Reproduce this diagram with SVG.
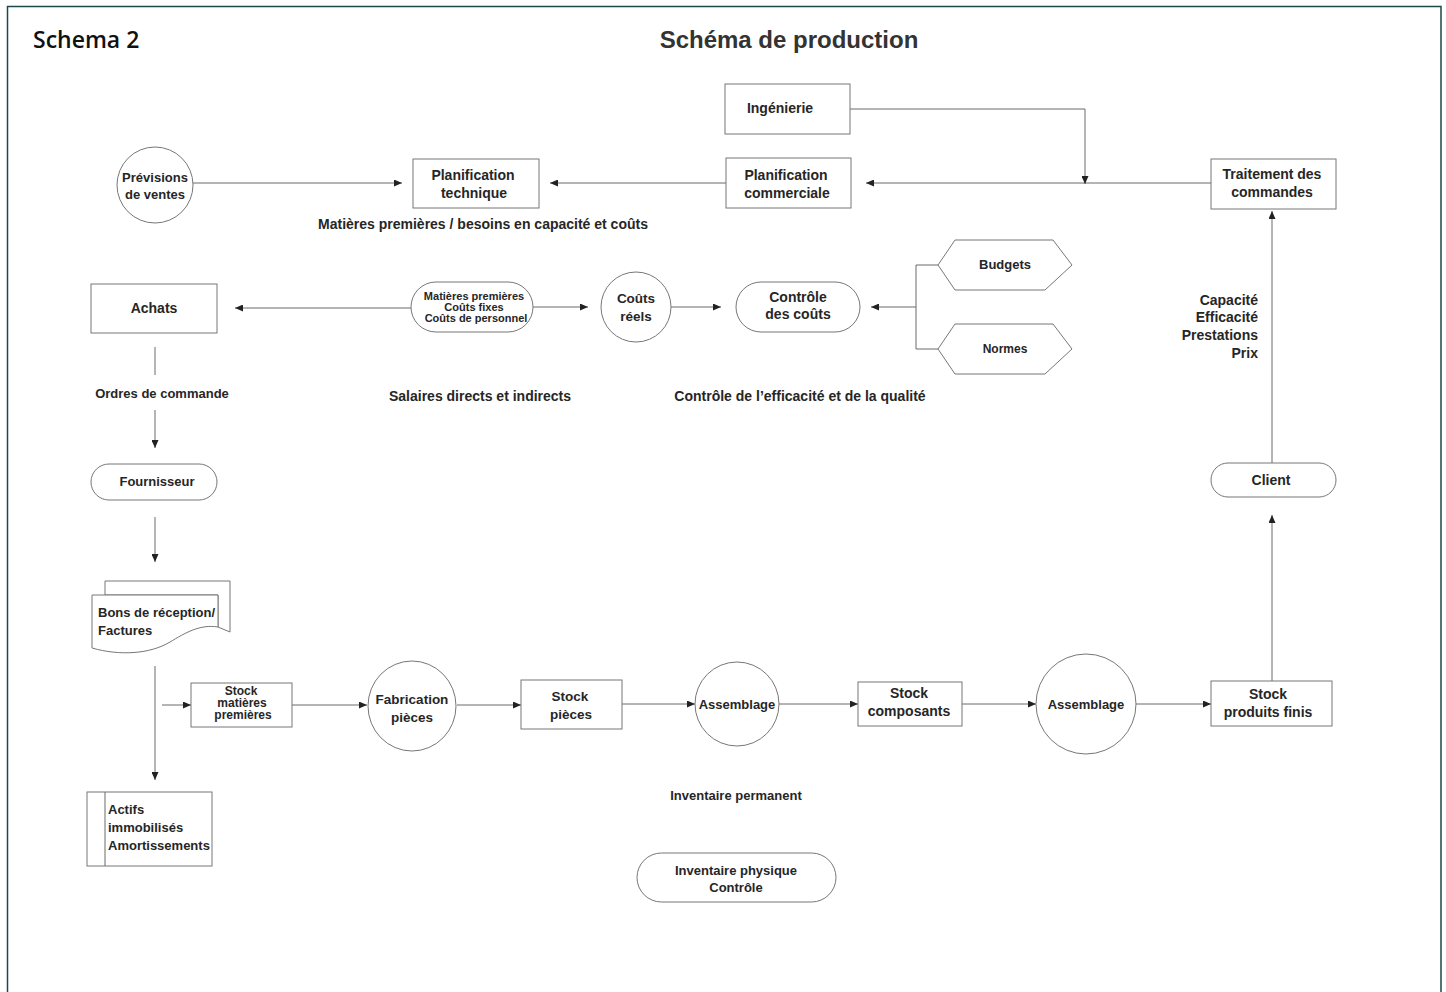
<svg xmlns="http://www.w3.org/2000/svg" width="1446" height="992" viewBox="0 0 1446 992">
<defs>
<marker id="ah" markerWidth="9" markerHeight="7" refX="8" refY="3.5" orient="auto" markerUnits="userSpaceOnUse">
<path d="M0,0 L8,3.5 L0,7 z" fill="#222"/>
</marker>
<style>
.sh{fill:#fff;stroke:#777;stroke-width:1}
.t{font-family:"Liberation Sans",Arial,sans-serif;font-weight:bold;font-size:13px;fill:#262626;text-anchor:middle}
.tl{text-anchor:start}
.tr{text-anchor:end}
.s11{font-size:11px}
.s12{font-size:12px}
.s135{font-size:13.5px}
.s14{font-size:14px}
.c{fill:none;stroke:#6a6a6a;stroke-width:1}
.ca{fill:none;stroke:#6a6a6a;stroke-width:1;marker-end:url(#ah)}
</style>
</defs>
<rect width="1446" height="992" fill="#fff"/>
<path d="M7.5,992 V6.5 H1441 V992" fill="none" stroke="#1d4848" stroke-width="1.5"/>
<text x="33" y="48" style="font-family:'Open Sans','Liberation Sans',sans-serif;font-weight:600;font-size:23px;fill:#111">Schema 2</text>
<text x="789" y="48" style="font-family:'Liberation Sans',Arial,sans-serif;font-weight:bold;font-size:24px;fill:#333;text-anchor:middle">Schéma de production</text>

<g id="connectors">
<path class="ca" d="M193,183 H402"/>
<path class="ca" d="M726,183 H550"/>
<path class="ca" d="M1211,183 H866"/>
<path class="ca" d="M850,109 H1085 V184"/>
<path class="ca" d="M411,308 H235"/>
<path class="ca" d="M533,307 H588"/>
<path class="ca" d="M671,307 H721"/>
<path class="ca" d="M916,307 H871"/>
<path class="c" d="M938,265 H916 V349 H938"/>
<path class="c" d="M155,347 V375"/>
<path class="ca" d="M155,410 V448"/>
<path class="ca" d="M155,517 V562"/>
<path class="ca" d="M155,666 V780"/>
<path class="ca" d="M162,705 H191"/>
<path class="ca" d="M292,705 H367"/>
<path class="ca" d="M457,705 H521"/>
<path class="ca" d="M622,704 H695"/>
<path class="ca" d="M779,704 H858"/>
<path class="ca" d="M962,704 H1036"/>
<path class="ca" d="M1136,704 H1211"/>
<path class="ca" d="M1272,681 V515"/>
<path class="ca" d="M1272,463 V211"/>
</g>

<g id="previsions">
<circle class="sh" cx="155" cy="185" r="38"/>
<text class="t" x="155" y="182">Prévisions</text>
<text class="t" x="155" y="199">de ventes</text>
</g>
<g id="plan-tech">
<rect class="sh" x="413" y="159" width="126" height="49"/>
<text class="t s14" x="473" y="180">Planification</text>
<text class="t s14" x="474" y="198">technique</text>
</g>
<g id="ingenierie">
<rect class="sh" x="725" y="84" width="125" height="50"/>
<text class="t s14" x="780" y="113">Ingénierie</text>
</g>
<g id="plan-comm">
<rect class="sh" x="726" y="158" width="125" height="50"/>
<text class="t s14" x="786" y="180">Planification</text>
<text class="t s14" x="787" y="198">commerciale</text>
</g>
<g id="traitement">
<rect class="sh" x="1211" y="159" width="125" height="50"/>
<text class="t s14" x="1272" y="179">Traitement des</text>
<text class="t s14" x="1272" y="197">commandes</text>
</g>
<text class="t s14" x="483" y="229">Matières premières / besoins en capacité et coûts</text>

<g id="achats">
<rect class="sh" x="91" y="284" width="126" height="49"/>
<text class="t s14" x="154" y="313">Achats</text>
</g>
<g id="couts-pill">
<rect class="sh" x="411" y="282" width="122" height="50" rx="25"/>
<text class="t s11" x="474" y="300">Matières premières</text>
<text class="t s11" x="474" y="311">Coûts fixes</text>
<text class="t s11" x="476" y="322">Coûts de personnel</text>
</g>
<g id="couts-reels">
<circle class="sh" cx="636" cy="307" r="35"/>
<text class="t s135" x="636" y="303">Coûts</text>
<text class="t s135" x="636" y="321">réels</text>
</g>
<g id="controle-couts">
<rect class="sh" x="736" y="282" width="124" height="50" rx="25"/>
<text class="t s14" x="798" y="302">Contrôle</text>
<text class="t s14" x="798" y="319">des coûts</text>
</g>
<g id="budgets">
<polygon class="sh" points="938,265 955,240 1053,240 1072,265 1045,290 955,290"/>
<text class="t" x="1005" y="269">Budgets</text>
</g>
<g id="normes">
<polygon class="sh" points="938,349 955,324 1053,324 1072,349 1045,374 955,374"/>
<text class="t s12" x="1005" y="353">Normes</text>
</g>
<text class="t" x="162" y="398">Ordres de commande</text>
<text class="t s14" x="480" y="401">Salaires directs et indirects</text>
<text class="t s14" x="800" y="401">Contrôle de l’efficacité et de la qualité</text>

<g id="fournisseur">
<rect class="sh" x="91" y="464" width="126" height="36" rx="18"/>
<text class="t" x="157" y="486">Fournisseur</text>
</g>
<g id="bons">
<path class="sh" d="M105,581 H230 V632 L218,627 V595 H105 Z"/>
<path class="sh" d="M92,595 H218 V627 C200,624 185,633 170,642 C150,654 120,656 92,648 Z"/>
<text class="t tl" x="98" y="617">Bons de réception/</text>
<text class="t tl" x="98" y="635">Factures</text>
</g>
<g id="actifs">
<rect class="sh" x="87" y="792" width="125" height="74"/>
<path class="c" d="M105,792 V866"/>
<text class="t tl" x="108" y="814">Actifs</text>
<text class="t tl" x="108" y="832">immobilisés</text>
<text class="t tl" x="108" y="850">Amortissements</text>
</g>

<g id="stock-mp">
<rect class="sh" x="191" y="683" width="101" height="44"/>
<text class="t s12" x="241" y="695">Stock</text>
<text class="t s12" x="242" y="707">matières</text>
<text class="t s12" x="243" y="719">premières</text>
</g>
<g id="fabrication">
<ellipse class="sh" cx="412" cy="706" rx="44" ry="45"/>
<text class="t s135" x="412" y="704">Fabrication</text>
<text class="t s135" x="412" y="722">pièces</text>
</g>
<g id="stock-pieces">
<rect class="sh" x="521" y="680" width="101" height="49"/>
<text class="t s135" x="570" y="701">Stock</text>
<text class="t s135" x="571" y="719">pièces</text>
</g>
<g id="assemblage1">
<ellipse class="sh" cx="737" cy="704" rx="42" ry="42"/>
<text class="t" x="737" y="709">Assemblage</text>
</g>
<g id="stock-composants">
<rect class="sh" x="858" y="682" width="104" height="44"/>
<text class="t s14" x="909" y="698">Stock</text>
<text class="t s14" x="909" y="716">composants</text>
</g>
<g id="assemblage2">
<ellipse class="sh" cx="1086" cy="704" rx="50" ry="50"/>
<text class="t" x="1086" y="709">Assemblage</text>
</g>
<g id="stock-pf">
<rect class="sh" x="1211" y="681" width="121" height="45"/>
<text class="t s14" x="1268" y="699">Stock</text>
<text class="t s14" x="1268" y="717">produits finis</text>
</g>
<g id="client">
<rect class="sh" x="1211" y="463" width="125" height="34" rx="17"/>
<text class="t s14" x="1271" y="485">Client</text>
</g>
<g id="capacite-labels">
<text class="t s14 tr" x="1258" y="305">Capacité</text>
<text class="t s14 tr" x="1258" y="322">Efficacité</text>
<text class="t s14 tr" x="1258" y="340">Prestations</text>
<text class="t s14 tr" x="1258" y="358">Prix</text>
</g>
<text class="t" x="736" y="800">Inventaire permanent</text>
<g id="inventaire-physique">
<rect class="sh" x="637" y="853" width="199" height="49" rx="24.5"/>
<text class="t" x="736" y="875">Inventaire physique</text>
<text class="t" x="736" y="892">Contrôle</text>
</g>
</svg>
